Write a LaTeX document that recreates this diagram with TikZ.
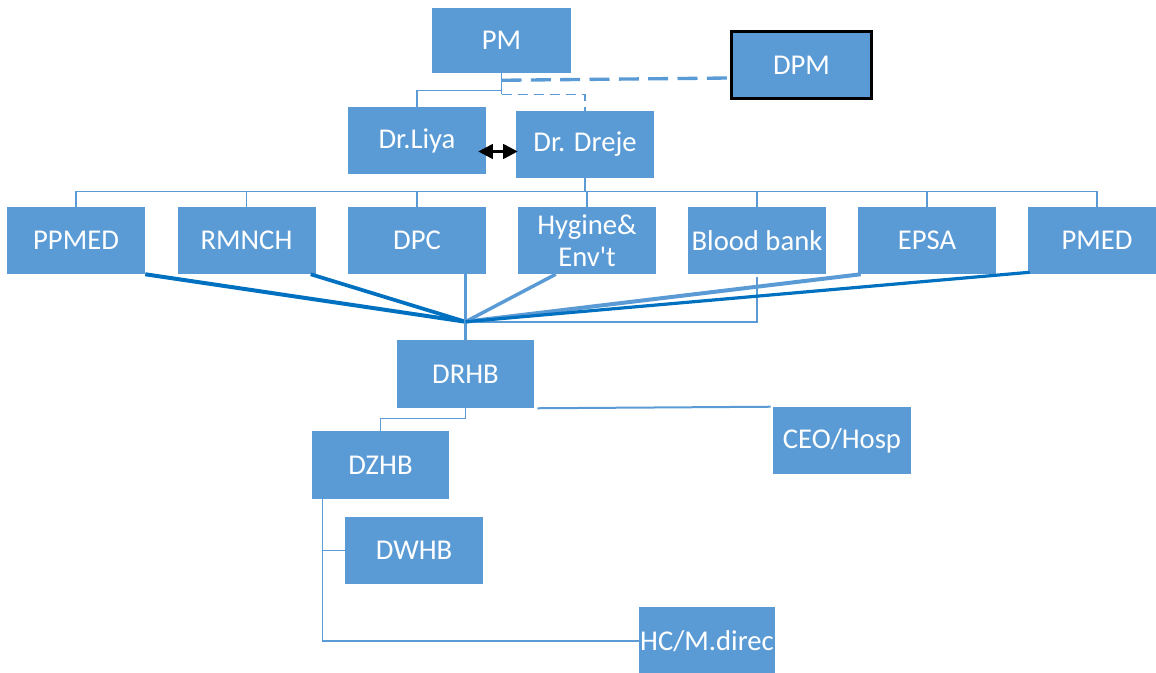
\documentclass[tikz,border=0pt]{standalone}
\usepackage{fontspec}
\newfontfamily\calibri{Carlito}
\usetikzlibrary{arrows.meta,calc}
\definecolor{boxblue}{HTML}{5B9BD5}
\definecolor{darkline}{HTML}{0070C0}
\begin{document}
\begin{tikzpicture}[x=0.75pt,y=-0.75pt,
  box/.style={fill=boxblue,draw=none,text=white,inner sep=0pt,
    minimum width=103.5pt,minimum height=50.25pt,align=center,
    font=\calibri\fontsize{21.5}{24}\selectfont},
  conn/.style={draw=boxblue,line width=1.1pt},
  darkconn/.style={draw=darkline,line width=#1},
  lightconn/.style={draw=boxblue,line width=#1},
  thickdash/.style={draw=boxblue,line width=2.5pt,dash pattern=on 15pt off 7pt},
  thindash/.style={draw=boxblue,line width=1.1pt,dash pattern=on 8pt off 4pt},
  dblarrow/.style={draw=black,line width=2pt,{Triangle[length=11pt,width=11pt]}-{Triangle[length=11pt,width=11pt]}}
]
\useasboundingbox (0,0) rectangle (1156,673);
\clip (0,0) rectangle (1156,673);

% nodes
\node[box,minimum width=104.25pt,minimum height=48.75pt] (PM) at (501.5,40.5) {PM};
\node[box,draw=black,line width=2.25pt,minimum width=105pt,minimum height=50.25pt] (DPM) at (801.5,65) {DPM};
\node[box] (Liya) at (417,140.5) {Dr.Liya};
\node[box] (Dreje) at (585,144.5) {Dr. Dreje};

\node[box] (PPMED) at (76,240.5) {PPMED};
\node[box] (RMNCH) at (246.5,240.5) {RMNCH};
\node[box] (DPC) at (417,240.5) {DPC};
\node[box] (Hyg) at (587,240.5) {Hygine\&\\Env\char39t};
\node[box] (Blood) at (757,240.5) {Blood bank};
\node[box] (EPSA) at (927,240.5) {EPSA};
\node[box] (PMED) at (1097,240.5) {PMED};

\node[box,minimum width=102.75pt,minimum height=51pt] (DRHB) at (465.5,374) {DRHB};
\node[box] (CEO) at (842,440.5) {CEO/Hosp};
\node[box,minimum width=102.75pt,minimum height=51pt] (DZHB) at (380.5,465) {DZHB};
\node[box] (DWHB) at (414,550.5) {DWHB};
\node[box,minimum width=102pt,minimum height=51pt] (HC) at (707,641) {HC/M.direc};

% top connectors
\draw[conn] (PM.south) -- ++(0,21);
\draw[conn] (PM.south) ++(0,17) -| (Liya.north);
\draw[thindash] ([yshift=-15.75pt]PM.south) -| (Dreje.north);
\draw[thickdash] ([yshift=-5.25pt]PM.south) -- ([yshift=-9.75pt]DPM.west);
\draw[dblarrow] ([xshift=-6pt,yshift=-8.25pt]Liya.east) -- ([xshift=1.5pt,yshift=-5.25pt]Dreje.west);

% bus to departments
\foreach \c in {PPMED,RMNCH,DPC,Hyg,Blood,EPSA,PMED}
  \draw[conn] (Dreje.south) -- ++(0,13) -| (\c.north);

% convergence to DRHB
\coordinate (conv) at ([yshift=13.5pt]DRHB.north);
\draw[darkconn=3pt] (PPMED.south east) -- (conv);
\draw[darkconn=2.8pt] ([xshift=-3.75pt]RMNCH.south east) -- (conv);
\draw[lightconn=1.6pt] (conv |- DPC.south) -- (conv) -- (DRHB.north);
\draw[lightconn=2.6pt] ([xshift=28.5pt]Hyg.south west) -- (conv);
\draw[lightconn=1.6pt] ([yshift=-2.25pt]Blood.south) |- (conv);
\draw[lightconn=3pt] ([xshift=2.25pt]EPSA.south west) -- (conv);
\draw[darkconn=2.4pt] ([xshift=1.5pt,yshift=1.5pt]PMED.south west) -- (conv);

% lower connectors
\draw[lightconn=1.5pt] ([xshift=2.25pt]DRHB.south east) -- ([xshift=-1.5pt]CEO.north west);
\draw[conn] (DRHB.south) -- ++(0,10) -| (DZHB.north);
\coordinate (dz) at ([xshift=8.25pt]DZHB.south west);
\draw[conn] (dz) |- (HC.west);
\draw[conn] (dz |- DWHB.west) -- (DWHB.west);
\end{tikzpicture}
\end{document}
